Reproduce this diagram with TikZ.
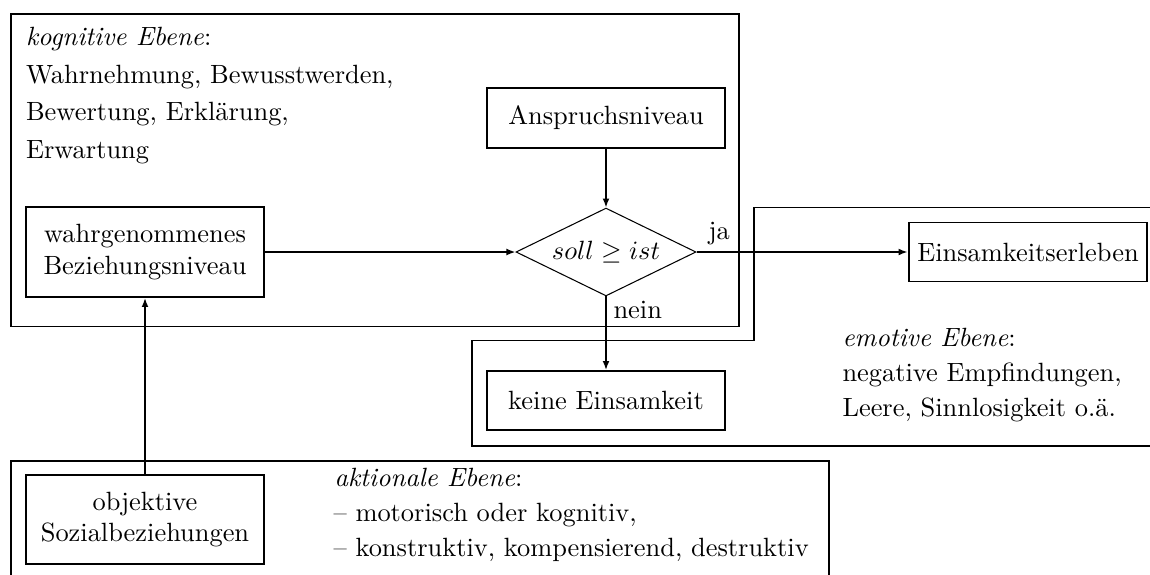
\documentclass[tikz,border=0pt]{standalone}
\usepackage{fontspec}
\usetikzlibrary{shapes.geometric,arrows.meta}
\begin{document}
\begin{tikzpicture}[x=0.3788pt,y=-0.3788pt,
  box/.style={draw,line width=0.75pt,inner sep=0pt,align=center,minimum width=90.5pt},
  region/.style={line width=0.75pt},
  conn/.style={line width=0.6pt,-{Latex[length=3.4pt,width=2.6pt]}},
  txt/.style={anchor=base west,inner sep=0pt},
  dec/.style={draw,diamond,line width=0.4pt,inner sep=0pt,minimum width=68.2pt,minimum height=33.3pt,aspect=2.045}]
\clip (0,0) rectangle (1150,574);
% regions
\draw[region] (10.7,14) rectangle (739,326.5);
\draw[region] (1160,207.5) -- (753.5,207.5) -- (753.5,340.5) -- (472,340.5) -- (472,445.5) -- (1160,445.5);
\draw[region] (10.7,590) -- (10.7,461) -- (829,461) -- (829,590);
% nodes
\node[box,minimum height=22.7pt] (ansp) at (606,118) {Anspruchsniveau};
\node[dec] (dec) at (606,252) {$soll \geq ist$};
\node[box,minimum height=34.1pt] (wahr) at (145,252) {wahrgenommenes\\Beziehungsniveau};
\node[box,minimum height=33.7pt] (obj) at (145,519.5) {objektive\\Sozialbeziehungen};
\node[box,minimum height=22.35pt] (ein) at (1028,252) {Einsamkeitserleben};
\node[box,minimum height=22.35pt] (keine) at (606,400.5) {keine Einsamkeit};
% texts
\node[txt] (k1) at (25.5,45.7) {\textit{kognitive Ebene}:};
\node[txt] (k2) at (25.5,83) {Wahrnehmung, Bewusstwerden,};
\node[txt] (k3) at (25.5,120.5) {Bewertung, Erklärung,};
\node[txt] (k4) at (25.5,158) {Erwartung};
\node[txt] (e1) at (842,346.7) {\textit{emotive Ebene}:};
\node[txt] (e2) at (842,381.7) {negative Empfindungen,};
\node[txt] (e3) at (842,416.7) {Leere, Sinnlosigkeit o.ä.};
\node[txt] (a1) at (334,486.7) {\textit{aktionale Ebene}:};
\node[txt] (a2) at (333,521.7) {\textendash{} motorisch oder kognitiv,};
\node[txt] (a3) at (333,556.7) {\textendash{} konstruktiv, kompensierend, destruktiv};
\node[txt] (ja) at (708,239) {ja};
\node[txt] (nein) at (613,318) {nein};
% connectors
\draw[conn] (wahr) -- (dec);
\draw[conn] (ansp) -- (dec);
\draw[conn] (dec) -- (ein);
\draw[conn] (dec) -- (keine);
\draw[conn] (obj) -- (wahr);
\end{tikzpicture}
\end{document}
